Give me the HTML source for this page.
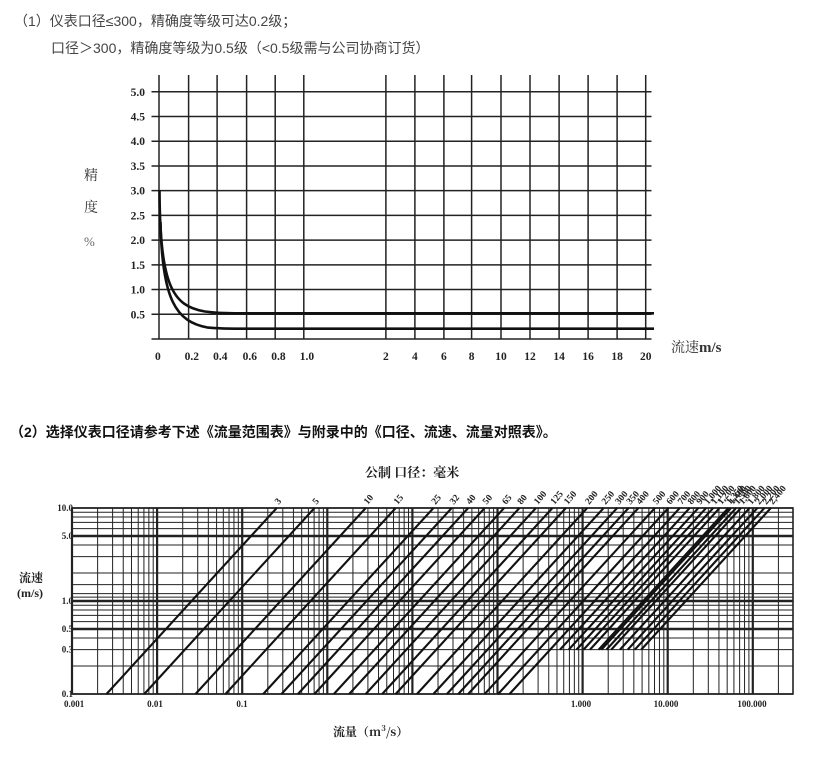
<!DOCTYPE html>
<html><head><meta charset="utf-8">
<style>
html,body{margin:0;padding:0;background:#fff;}
body{width:824px;height:757px;position:relative;overflow:hidden;font-family:"Liberation Serif","Noto Serif CJK SC",serif;}
.t{position:absolute;white-space:nowrap;}
</style></head><body>
<div class="t" style="left:14px;top:11px;font:14px 'Liberation Sans','Noto Sans CJK SC',sans-serif;color:#444;">（1）仪表口径≤300，精确度等级可达0.2级；</div>
<div class="t" style="left:51px;top:38px;font:14px 'Liberation Sans','Noto Sans CJK SC',sans-serif;color:#444;">口径＞300，精确度等级为0.5级（&lt;0.5级需与公司协商订货）</div>
<div class="t" style="left:10px;top:422px;font:bold 14px 'Liberation Sans','Noto Sans CJK SC',sans-serif;color:#111;">（2）选择仪表口径请参考下述《流量范围表》与附录中的《口径、流速、流量对照表》。</div>
<svg id="s" width="824" height="757" style="position:absolute;left:0;top:0" xmlns="http://www.w3.org/2000/svg">
<g id="topg" stroke="#222" stroke-width="1.5" fill="none"></g>
<path d="M159.5,190 C160,285 172,306 205,311.5 C218,313.3 230,313.3 240,313.3 L654,313.3" stroke="#111" stroke-width="2.6" fill="none"/>
<path d="M160.5,222 C162,300 176,322 208,327.6 C220,328.7 230,328.7 240,328.7 L654,328.7" stroke="#111" stroke-width="2.6" fill="none"/>
<g id="toplab" font-family="Liberation Serif,serif" font-weight="bold" font-size="11.5" fill="#222"></g>
<text x="84" y="180" font-family="Noto Serif CJK SC,serif" font-size="14" fill="#333">精</text>
<text x="84" y="212" font-family="Noto Serif CJK SC,serif" font-size="14" fill="#333">度</text>
<text x="84" y="246" font-family="Liberation Serif,serif" font-size="13" fill="#666">%</text>
<text x="671" y="352" font-family="Noto Serif CJK SC,serif" font-size="14" fill="#333">流速<tspan font-family="Liberation Serif,serif" font-weight="bold" font-size="15">m/s</tspan></text>
<text x="365" y="477" font-family="Noto Serif CJK SC,serif" font-weight="bold" font-size="13" fill="#222">公制 口径：毫米</text>
<g id="botg"></g>
<text x="19" y="582" font-family="Noto Serif CJK SC,serif" font-weight="bold" font-size="12" fill="#222">流速</text>
<text x="17" y="597" font-family="Liberation Serif,serif" font-weight="bold" font-size="12" fill="#222">(m/s)</text>
<text x="333" y="736" font-family="Noto Serif CJK SC,serif" font-weight="bold" font-size="12" fill="#222">流量（m<tspan font-size="8" dy="-5">3</tspan><tspan dy="5">/s）</tspan></text>
</svg>
<script>
(function(){
var NS="http://www.w3.org/2000/svg";
function el(p,t,a,txt){var e=document.createElementNS(NS,t);for(var k in a)e.setAttribute(k,a[k]);if(txt!=null)e.textContent=txt;p.appendChild(e);return e;}
var tg=document.getElementById('topg'),tl=document.getElementById('toplab');
var xs=[159,188.6,217.1,246.6,275.2,303.8,385.9,414.9,443.9,471.6,501,530,559.1,588.1,617.1,645.7];
var xl=['0','0.2','0.4','0.6','0.8','1.0','2','4','6','8','10','12','14','16','18','20'];
xs.forEach(function(x,i){el(tg,'line',{x1:x,y1:75,x2:x,y2:339});
 el(tl,'text',{x:(i<6?x-4:x),y:360,'text-anchor':(i<6?'start':'middle')},xl[i]);});
for(var i=0;i<=10;i++){var y=339-i*24.72;el(tg,'line',{x1:151.5,y1:y,x2:651.5,y2:y});
 if(i>0)el(tl,'text',{x:145,y:y+4,'text-anchor':'end'},(i*0.5).toFixed(1));}
var bot=document.getElementById('botg');
var L=72,R=793,T=508,B=694;
function X(q){return L+(Math.log10(q)+3)*85.1;}
function Y(v){return 601-Math.log10(v)*93;}
for(var d=-3;d<=5;d++){for(var m=1;m<=9;m++){var q=m*Math.pow(10,d);var x=X(q);if(x<L-0.5||x>R)continue;
 el(bot,'line',{x1:x,y1:T,x2:x,y2:B,stroke:'#222','stroke-width':(m==1?2.2:1)});}}
var hv=[0.1,0.2,0.3,0.4,0.5,0.6,0.7,0.8,0.9,1,1.1,1.2,1.5,2,3,4,5,6,7,8,9,10];
hv.forEach(function(v){var y=Y(v);var w=(v==5||v==1||v==0.5)?2.4:1;if(v==10||v==0.1)w=1.6;
 el(bot,'line',{x1:L,y1:y,x2:R,y2:y,stroke:'#222','stroke-width':w});});
el(bot,'rect',{x:L,y:T,width:R-L,height:B-T,fill:'none',stroke:'#222','stroke-width':1.6});
var DN=[3,5,10,15,25,32,40,50,65,80,100,125,150,200,250,300,350,400,500,600,700,800,900,1000,1100,1200,1350,1400,1500,1600,1800,2000,2200,2400];
DN.forEach(function(D){var k=0.0028274*D*D;var vmin=D>=800?0.3:0.1;
 var x1=X(k*vmin),y1=Y(vmin),x2=X(k*10),y2=Y(10);
 if(x2>R){var f=(R-x1)/(x2-x1);x2=R;y2=y1+(y2-y1)*f;}
 if(x1<L){var f2=(L-x1)/(x2-x1);y1=y1+(y2-y1)*f2;x1=L;}
 el(bot,'line',{x1:x1,y1:y1,x2:x2,y2:y2,stroke:'#111','stroke-width':2.1});
 var s=D>=1000?(Math.floor(D/1000)+','+String(D%1000).padStart(3,'0')):String(D);
 var tx=X(k*10)+2,ty=T-3;
 el(bot,'text',{x:tx,y:ty,transform:'rotate(-50 '+tx+' '+ty+')','font-family':'Liberation Serif,serif','font-size':'9.5','font-weight':'bold',fill:'#222'},s);});
var xlab=[[64,'0.001','start'],[155,'0.01','middle'],[242,'0.1','middle'],[581,'1.000','middle'],[666,'10.000','middle'],[752,'100.000','middle']];
xlab.forEach(function(a){el(bot,'text',{x:a[0],y:707,'text-anchor':a[2],'font-family':'Liberation Serif,serif','font-size':'9','font-weight':'bold',fill:'#222'},a[1]);});
[[10,'10.0'],[5,'5.0'],[1,'1.0'],[0.5,'0.5'],[0.3,'0.3'],[0.1,'0.1']].forEach(function(a){
 el(bot,'text',{x:73,y:Y(a[0])+3,'text-anchor':'end','font-family':'Liberation Serif,serif','font-size':'9','font-weight':'bold',fill:'#222'},a[1]);});
})();
</script>
</body></html>
